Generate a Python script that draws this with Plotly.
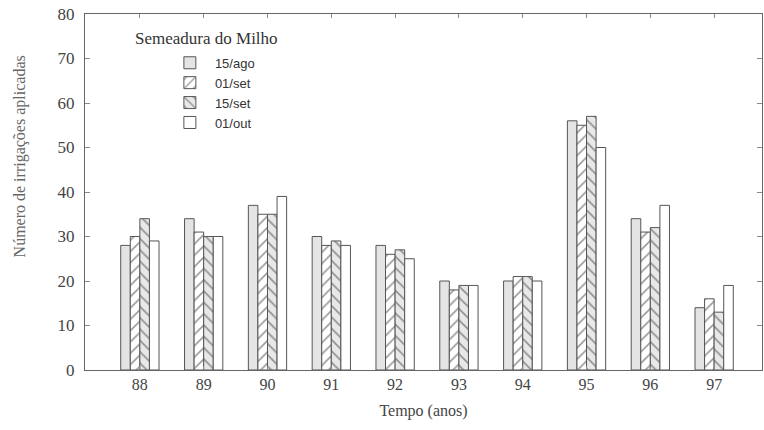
import plotly.graph_objects as go

years = ["88", "89", "90", "91", "92", "93", "94", "95", "96", "97"]
s_15ago = [28, 34, 37, 30, 28, 20, 20, 56, 34, 14]
s_01set = [30, 31, 35, 28, 26, 18, 21, 55, 31, 16]
s_15set = [34, 30, 35, 29, 27, 19, 21, 57, 32, 13]
s_01out = [29, 30, 39, 28, 25, 19, 20, 50, 37, 19]
y_ticks = [0, 10, 20, 30, 40, 50, 60, 70, 80]

xi = list(range(len(years)))
line_col = "#555555"
serif = "Liberation Serif"
sans = "Liberation Sans"

fig = go.Figure()
fig.add_trace(go.Bar(x=xi, y=s_15ago, name="15/ago",
                     marker=dict(color="#e4e4e4", line=dict(color=line_col, width=1))))
fig.add_trace(go.Bar(x=xi, y=s_01set, name="01/set",
                     marker=dict(color="white", line=dict(color=line_col, width=1),
                                 pattern=dict(shape="/", fgcolor="#333333", bgcolor="white",
                                              size=8, solidity=0.2))))
fig.add_trace(go.Bar(x=xi, y=s_15set, name="15/set",
                     marker=dict(color="#e8e8e8", line=dict(color=line_col, width=1),
                                 pattern=dict(shape="\\", fgcolor="#333333", bgcolor="#e8e8e8",
                                              size=8, solidity=0.2))))
fig.add_trace(go.Bar(x=xi, y=s_01out, name="01/out",
                     marker=dict(color="white", line=dict(color=line_col, width=1))))

fig.update_layout(
    width=764, height=430,
    margin=dict(l=85, r=2, t=14, b=60),
    paper_bgcolor="white", plot_bgcolor="white",
    barmode="group", bargap=0.4, bargroupgap=0.0,
    showlegend=True,
    legend=dict(x=0.118, y=0.905, xanchor="left", yanchor="top",
                bgcolor="rgba(0,0,0,0)", borderwidth=0,
                font=dict(family=sans, size=13, color="#333333"),
                tracegroupgap=0, itemwidth=40),
    annotations=[
        dict(text="Semeadura do Milho", x=0.071, y=0.93,
             xref="paper", yref="paper", xanchor="left", yanchor="middle",
             showarrow=False,
             font=dict(family=serif, size=17, color="#333333")),
        dict(text="Número de irrigações aplicadas", x=-0.096, y=0.60,
             xref="paper", yref="paper", xanchor="center", yanchor="middle",
             textangle=-90, showarrow=False,
             font=dict(family=serif, size=16, color="#666666")),
    ],
    xaxis=dict(
        tickmode="array", tickvals=xi, ticktext=years,
        range=[-0.86, 9.75],
        showgrid=False, zeroline=False,
        showline=True, linecolor="#666666", linewidth=1, mirror="ticks",
        ticks="inside", ticklen=4, tickcolor="#888888",
        tickfont=dict(family=serif, size=16, color="#444444"),
        title=dict(text="Tempo (anos)", font=dict(family=serif, size=16, color="#444444"),
                   standoff=12),
    ),
    yaxis=dict(
        tickmode="array", tickvals=y_ticks,
        range=[0, 80],
        showgrid=False, zeroline=False,
        showline=True, linecolor="#666666", linewidth=1, mirror="ticks",
        ticks="inside", ticklen=5, tickcolor="#888888",
        tickfont=dict(family=serif, size=17, color="#444444"),
        ticklabelstandoff=6,
    ),
)

fig.write_html("out.html")
